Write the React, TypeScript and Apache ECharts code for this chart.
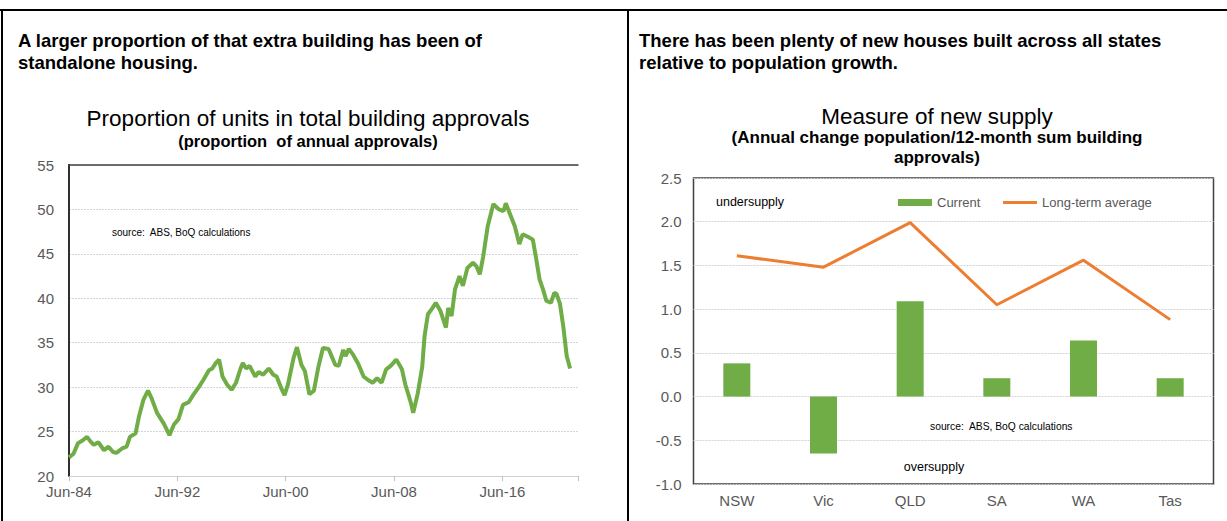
import React, { useEffect, useRef } from "react";
import * as echarts from "echarts";

// ---- Left chart: proportion of units in total building approvals (%), months since Jun-84
const UNIT_MONTHS = [
  0, 4, 8, 12, 16, 19, 22, 26, 31, 35, 39, 42, 47, 51, 54, 59, 62, 66, 70, 73, 78, 84, 89, 93, 97,
  101, 106, 110, 115, 119, 124, 127, 130, 133, 136, 140, 144, 148, 152, 154, 157, 160, 165, 168,
  172, 177, 181, 184, 188, 191, 194, 199, 202, 206, 209, 213, 217, 221, 225, 230, 236, 239, 243,
  245, 248, 252, 256, 261, 265, 269, 273, 277, 281, 285, 290, 295, 298, 303, 305, 309, 313, 315,
  318, 322, 325, 329, 334, 336, 339, 342, 346, 349, 353, 358, 361, 364, 367, 371, 376, 381, 385,
  387, 391, 395, 399, 402, 407, 411, 414, 417, 420, 423, 427, 430, 432, 435, 438, 441, 444,
];
const UNIT_SHARE = [
  22.1, 22.5, 23.7, 24.0, 24.4, 23.9, 23.5, 23.8, 22.9, 23.3, 22.7, 22.6, 23.1, 23.3, 24.4, 24.8,
  26.7, 28.6, 29.6, 28.8, 27.1, 25.9, 24.6, 25.8, 26.4, 28.0, 28.3, 29.1, 30.0, 30.8, 31.9, 32.1,
  32.7, 33.1, 31.2, 30.3, 29.7, 30.5, 32.1, 32.7, 32.1, 32.4, 31.2, 31.7, 31.4, 32.1, 31.4, 31.2,
  29.9, 29.1, 30.3, 33.3, 34.5, 32.5, 31.8, 29.2, 29.6, 32.3, 34.4, 34.3, 32.5, 32.4, 34.2, 33.5,
  34.3, 33.6, 32.7, 31.2, 30.8, 30.5, 31.0, 30.5, 32.0, 32.4, 33.1, 32.0, 30.3, 28.2, 27.1, 29.3,
  32.3, 35.7, 38.2, 38.9, 39.5, 38.6, 36.7, 38.9, 38.0, 41.0, 42.5, 41.4, 43.4, 44.0, 43.6, 42.7,
  44.7, 48.1, 50.6, 50.0, 49.8, 50.7, 49.4, 48.1, 46.1, 47.2, 46.9, 46.6, 44.4, 42.1, 41.0, 39.7,
  39.5, 40.6, 40.5, 39.4, 36.8, 33.5, 32.1,
];

// ---- Right chart: measure of new supply
const STATES = ["NSW", "Vic", "QLD", "SA", "WA", "Tas"];
const CURRENT = [0.38, -0.65, 1.09, 0.21, 0.64, 0.21];
const LONG_TERM = [1.61, 1.48, 1.99, 1.05, 1.56, 0.88];

const FONT = "'Liberation Sans', Arial, sans-serif";
const GREEN = "#70ad47";
const ORANGE = "#ed7d31";
const LABEL = "#595959";
const GRIDLINE = "#d4d4d4";
const BORDER = "#404040";

function monthLabel(v: number): string {
  if (v % 96 !== 0) return "";
  const yr = (84 + Math.round(v / 12)) % 100;
  return "Jun-" + String(yr).padStart(2, "0");
}

export default function App() {
  const ref = useRef<HTMLDivElement>(null);
  useEffect(() => {
    if (!ref.current) return;
    const chart = echarts.init(ref.current, null, { renderer: "svg" });
    const unitData = UNIT_MONTHS.map((m, i) => [m, UNIT_SHARE[i]]);
    const txt = (text: string, x: number, y: number, size: number, weight: string, fill: string, align = "left") => ({
      type: "text",
      x,
      y,
      silent: true,
      style: {
        text,
        fill,
        font: `${weight} ${size}px ${FONT}`,
        align,
        verticalAlign: "middle",
      },
    });
    const line = (x1: number, y1: number, x2: number, y2: number) => ({
      type: "line",
      silent: true,
      shape: { x1, y1, x2, y2 },
      style: { stroke: "#000", lineWidth: 2 },
    });
    chart.setOption({
      animation: false,
      backgroundColor: "#fff",
      textStyle: { fontFamily: FONT },
      grid: [
        { left: 69, top: 165, width: 509, height: 311, show: false },
        { left: 693.5, top: 178, width: 520, height: 306, show: true, borderColor: BORDER, borderWidth: 1.5, backgroundColor: "transparent" },
      ],
      legend: [
        {
          left: 893,
          top: 191,
          itemWidth: 34,
          itemHeight: 7,
          textStyle: { color: LABEL, fontSize: 13, fontFamily: FONT },
          data: [{ name: "Current", icon: "rect" }],
        },
        {
          left: 998,
          top: 191,
          itemWidth: 34,
          itemHeight: 3,
          textStyle: { color: LABEL, fontSize: 13, fontFamily: FONT },
          data: [{ name: "Long-term average", icon: "rect" }],
        },
      ],
      xAxis: [
        {
          gridIndex: 0,
          type: "value",
          min: 0,
          max: 451,
          interval: 96,
          position: "bottom",
          axisLine: { show: true, onZero: false, lineStyle: { color: "#cfcfcf", width: 1 } },
          axisTick: { show: true, length: 5, lineStyle: { color: "#bfbfbf" } },
          axisLabel: { formatter: monthLabel, color: LABEL, fontSize: 15, margin: 8, fontFamily: FONT },
          splitLine: { show: false },
        },
        {
          gridIndex: 0,
          type: "value",
          min: 0,
          max: 451,
          position: "top",
          axisLine: { show: true, onZero: false, lineStyle: { color: BORDER, width: 1.5 } },
          axisTick: { show: false },
          axisLabel: { show: false },
          splitLine: { show: false },
        },
        {
          gridIndex: 1,
          type: "category",
          data: STATES,
          axisLine: { show: false, onZero: false },
          axisTick: { show: false },
          axisLabel: { color: LABEL, fontSize: 15, margin: 9, fontFamily: FONT },
          splitLine: { show: false },
        },
      ],
      yAxis: [
        {
          gridIndex: 0,
          type: "value",
          min: 20,
          max: 55,
          interval: 5,
          axisLine: { show: true, lineStyle: { color: "#000", width: 2 } },
          axisTick: { show: false },
          axisLabel: { color: LABEL, fontSize: 15, margin: 15, fontFamily: FONT },
          splitLine: { show: true, lineStyle: { color: GRIDLINE, width: 1, type: [2, 1] } },
        },
        {
          gridIndex: 0,
          type: "value",
          min: 20,
          max: 55,
          position: "right",
          axisLine: { show: true, lineStyle: { color: BORDER, width: 1.5 } },
          axisTick: { show: false },
          axisLabel: { show: false },
          splitLine: { show: false },
        },
        {
          gridIndex: 1,
          type: "value",
          min: -1,
          max: 2.5,
          interval: 0.5,
          axisLine: { show: false },
          axisTick: { show: false },
          axisLabel: { color: LABEL, fontSize: 15, margin: 12, fontFamily: FONT, formatter: (v: number) => v.toFixed(1) },
          splitLine: { show: true, lineStyle: { color: GRIDLINE, width: 1, type: [2, 1] } },
        },
      ],
      series: [
        {
          name: "Units share",
          type: "line",
          xAxisIndex: 0,
          yAxisIndex: 0,
          data: unitData,
          symbol: "none",
          lineStyle: { color: GREEN, width: 4 },
          itemStyle: { color: GREEN },
        },
        {
          name: "Current",
          type: "bar",
          xAxisIndex: 2,
          yAxisIndex: 2,
          data: CURRENT,
          barWidth: 27,
          itemStyle: { color: GREEN },
        },
        {
          name: "Long-term average",
          type: "line",
          xAxisIndex: 2,
          yAxisIndex: 2,
          data: LONG_TERM,
          symbol: "none",
          lineStyle: { color: ORANGE, width: 3 },
          itemStyle: { color: ORANGE },
        },
      ],
      graphic: [
        line(0, 10, 1227, 10),
        line(2, 10, 2, 521),
        line(628, 10, 628, 521),
        txt("A larger proportion of that extra building has been of", 18, 40, 18.5, "bold", "#000"),
        txt("standalone housing.", 18, 62, 18.5, "bold", "#000"),
        txt("There has been plenty of new houses built across all states", 639, 40, 18.5, "bold", "#000"),
        txt("relative to population growth.", 639, 62, 18.5, "bold", "#000"),
        txt("Proportion of units in total building approvals", 308, 118, 22.5, "normal", "#000", "center"),
        txt("(proportion  of annual approvals)", 308, 141, 16.5, "bold", "#000", "center"),
        txt("Measure of new supply", 937, 116, 22.5, "normal", "#000", "center"),
        txt("(Annual change population/12-month sum building", 937, 137, 17, "bold", "#000", "center"),
        txt("approvals)", 937, 157, 17, "bold", "#000", "center"),
        txt("source:  ABS, BoQ calculations", 112, 232, 10, "normal", "#000"),
        txt("undersupply", 716, 202, 12.5, "normal", "#000"),
        txt("source:  ABS, BoQ calculations", 930, 426, 10.3, "normal", "#000"),
        txt("oversupply", 934, 467, 12.5, "normal", "#000", "center"),
      ],
    });
    return () => chart.dispose();
  }, []);
  return (
    <div
      ref={ref}
      style={{ position: "fixed", left: 0, top: 0, width: 1227, height: 521, background: "#fff" }}
    />
  );
}
